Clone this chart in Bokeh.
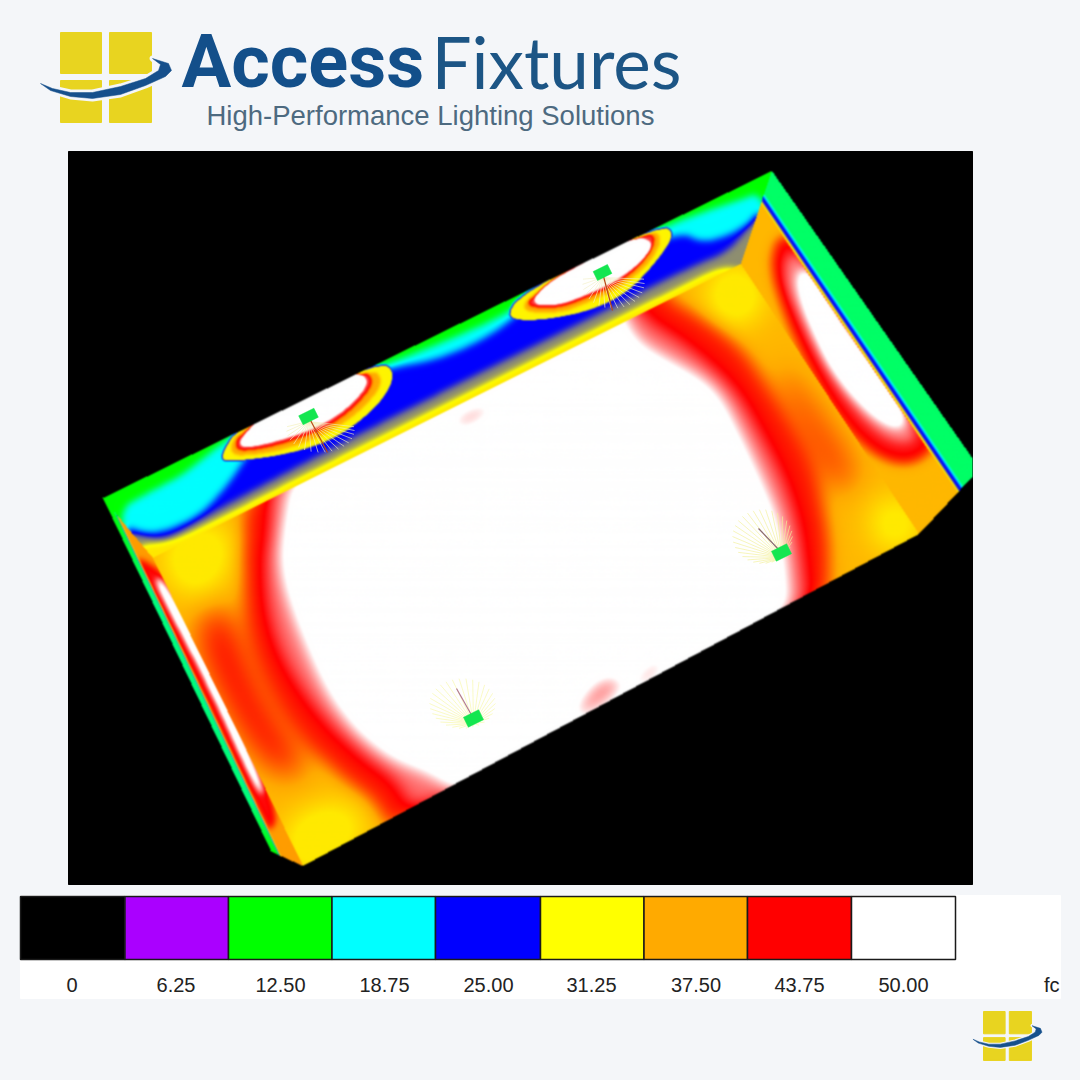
import numpy as np
from bokeh.plotting import figure
from bokeh.models import Range1d
from bokeh.core.properties import value
from bokeh.embed import file_html
from bokeh.resources import INLINE

BG = "#f4f6f9"
# ---------- legend ----------
LEVEL_LABELS = ["0", "6.25", "12.50", "18.75", "25.00", "31.25", "37.50", "43.75", "50.00"]
LEVEL_VALUES = [0, 6.25, 12.5, 18.75, 25, 31.25, 37.5, 43.75, 50]
LEVEL_COLORS = ["#000000", "#aa00ff", "#00ff00", "#00ffff", "#0000ff", "#ffff00", "#ffaa00", "#ff0000", "#ffffff"]
CELL_EDGES = [20, 124.5, 228, 331.5, 435, 540, 643.5, 747, 851, 955]
LABEL_X = [71.5, 175.5, 280, 384, 488, 591, 695.5, 799, 903]
UNIT = "fc"

# ---------- illuminance contours (fc, polygon) ----------
FLOOR_OUTLINE = [(152, 557), (740, 263), (918, 533), (302, 865)]
FLOOR_BASE = 36.5
FLOOR_MIN = 32.8
FLOOR_SOFT = [
    (30, [(158, 540), (215, 520), (232, 545), (212, 590), (180, 595)]),
    (30, [(285, 820), (340, 800), (370, 825), (315, 875), (288, 862)]),
    (29, [(705, 285), (740, 260), (765, 300), (740, 325), (715, 312)]),
    (30, [(868, 500), (910, 500), (922, 535), (880, 555)]),
    (44, [(190, 625), (225, 595), (258, 690), (315, 775), (270, 775), (222, 705)]),
    (42, [(770, 350), (812, 400), (865, 480), (832, 495), (788, 420)]),
]
FLOOR_CONTOURS = [
    (43, [(246, 470), (240, 570), (250, 650), (290, 727), (340, 777), (376, 802), (392, 840),
          (825, 610), (830, 565), (826, 518), (812, 465), (790, 425), (762, 378), (745, 352), (722, 330),
          (695, 312), (668, 298), (650, 270)]),
    (46.5, [(268, 470), (270, 525), (262, 570), (272, 640), (310, 705), (360, 755), (397, 780), (415, 820),
            (808, 620), (803, 565), (797, 520), (782, 475), (760, 433), (736, 390), (705, 360), (680, 340),
            (640, 315), (625, 280)]),
    (52.5, [(295, 460), (282, 530), (280, 570), (298, 627), (333, 705), (383, 755), (433, 773), (470, 800),
            (788, 625), (785, 565), (777, 520), (760, 480), (740, 437), (720, 397), (700, 378), (667, 360),
            (630, 338), (615, 290)]),
    (47, [(445, 420), (485, 400), (498, 408), (458, 432)]),
    (46.5, [(565, 720), (600, 672), (630, 680), (595, 712)]),
    (47, [(625, 685), (660, 652), (668, 665), (638, 690)]),
]
WALL_OUTLINE = [(102, 497), (771, 170), (762, 196), (740, 263), (152, 557), (115, 513)]
WALL_BASE = 12.5
WALL_CONTOURS = [
    (18.75, [(112, 512), (150, 490), (180, 475), (205, 455), (225, 440), (255, 418), (300, 392), (360, 373),
             (400, 358), (440, 342), (500, 316), (530, 295), (600, 260), (665, 225), (700, 212), (735, 200),
             (765, 190), (780, 300), (150, 600)]),
    (25, [(118, 522), (150, 535), (195, 518), (222, 490), (240, 465), (260, 432), (285, 405), (350, 378),
          (395, 366), (430, 360), (470, 345), (505, 324), (530, 300), (600, 265), (680, 230), (700, 242),
          (730, 234), (755, 217), (770, 205), (780, 300), (150, 600)]),
    (28.5, [(122, 530), (145, 535), (165, 538), (200, 518), (300, 464), (400, 412), (500, 362), (600, 312),
            (690, 266), (725, 252), (745, 230), (760, 205), (780, 300), (150, 600)]),
    (33, [(130, 545), (165, 543), (200, 528), (300, 476), (400, 426), (500, 376), (600, 326), (690, 281),
          (722, 266), (745, 270), (760, 300), (150, 600)]),
]
SPOT_BASE = 10
SPOTS = [
    (32, [(214, 461), (240, 461), (290, 454), (340, 437), (383, 401), (396, 372), (380, 358), (240, 420)]),
    (37.5, [(225, 455), (262, 453), (292, 446), (328, 432), (360, 410), (384, 381), (370, 365), (240, 425)]),
    (45, [(232, 450), (260, 448), (290, 440), (325, 427), (353, 407), (375, 380), (360, 368), (240, 430)]),
    (60, [(238, 446), (260, 443), (290, 435), (323, 422), (350, 403), (369, 379), (350, 370), (270, 405), (245, 432)]),
    (32, [(502, 319), (540, 321), (590, 311), (627, 293), (657, 261), (676, 232), (660, 222), (520, 290)]),
    (37.5, [(519, 311), (560, 312), (583, 303), (620, 287), (650, 261), (662, 237), (650, 228), (530, 292)]),
    (45, [(526, 306), (557, 307), (580, 299), (617, 283), (643, 261), (656, 238), (645, 230), (530, 295)]),
    (60, [(530, 303), (557, 303), (580, 295), (613, 280), (640, 260), (653, 241), (630, 236), (580, 263), (545, 283)]),
]
RIGHT_OUTLINE = [(771, 170), (972, 458), (972, 475), (960, 488), (933, 517), (918, 533), (740, 263), (762, 196)]
RIGHT_BASE = 36.5
RIGHT_CONTOURS = [
    (44, [(777, 232), (768, 265), (782, 312), (802, 358), (832, 412), (865, 450), (900, 466), (928, 456),
          (938, 430), (905, 400), (837, 300), (800, 240)]),
    (47, [(786, 252), (783, 280), (798, 315), (818, 355), (848, 403), (878, 434), (903, 444), (918, 436),
          (895, 395), (830, 300), (800, 255)]),
    (53, [(795, 272), (801, 303), (815, 337), (831, 370), (861, 405), (887, 425), (907, 427), (895, 395),
          (870, 362), (845, 330), (825, 298), (809, 268)]),
]
LEFT_OUTLINE = [(102, 497), (115, 513), (152, 557), (302, 865), (280, 855), (270, 850)]
LEFT_BASE = 38
LEFT_CONTOURS = [
    (44, [(132, 552), (172, 578), (224, 680), (278, 812), (270, 832), (260, 815), (196, 680), (142, 575)]),
    (56, [(150, 572), (165, 585), (214, 680), (265, 795), (257, 790), (207, 680)]),
]
EDGE_RIGHT = ((762, 196), (960, 487))
EDGE_RIGHT_D = [-3.5, -1.5, 0.5, 2.5, 4, 5.5, 7.5]
EDGE_RIGHT_V = [15, 19, 25, 25.5, 31.5, 37.5, 100]
EDGE_LEFT = ((117, 517), (278, 853))
EDGE_LEFT_D = [-0.5, 0.5, 1.5, 3]
EDGE_LEFT_V = [15.5, 30, 38, 100]
STRIP_Y = [505, 600, 800, 855]
STRIP_V = [12.5, 15.5, 15.5, 12.5]

# ---------- fixtures ----------
FIXTURE_X = [308, 602, 473, 781]
FIXTURE_Y = [416, 272, 718, 552]
FIXTURE_LEN = [17, 16, 17, 17]
FIXTURE_WID = [10, 10, 11, 11]
AIM_X1 = [327, 612, 456, 758]
AIM_Y1 = [452, 310, 688, 528]
AIM_COLOR = ["#b84a18", "#b84a18", "#b27a90", "#8a6a70"]
FAN_X = [320, 613, 462, 762]
FAN_Y = [430, 283, 703, 536]
FAN_RX = [34, 31, 33, 30]
FAN_RY = [22, 25, 25, 27]
FAN_COLOR = ["#f3f0b8", "#f3f0c8", "#f8f8a8", "#f3f098"]
WALL_RAY_DEG = [-10, 0, 10, 22, 34, 46, 58, 70, 82, 94, 106, 118, 130, 142, 154, 166, 178, 190]
FLOOR_RAY_DEG = [0, 12, 24, 36, 48, 60, 72, 84, 96, 108, 120, 132, 144, 156, 168, 180, 192, 204, 216, 228,
                 240, 252, 264, 276, 288, 300, 312, 324, 336, 348]

# ---------- raster of the illuminance field ----------
X0, Y0, W, H = 68, 151, 904, 733


def rounded(poly, n=2):
    for _ in range(n):
        out = []
        for a, b in zip(poly, poly[1:] + poly[:1]):
            out.append((0.75 * a[0] + 0.25 * b[0], 0.75 * a[1] + 0.25 * b[1]))
            out.append((0.25 * a[0] + 0.75 * b[0], 0.25 * a[1] + 0.75 * b[1]))
        poly = out
    return poly


def fill(poly):
    m = np.zeros((H, W + 1), dtype=bool)
    pts = [(a - X0, b - Y0) for a, b in poly]
    for (x1, y1), (x2, y2) in zip(pts, pts[1:] + pts[:1]):
        if y1 == y2:
            continue
        lo, hi = int(np.ceil(min(y1, y2))), int(np.ceil(max(y1, y2)))
        rows = np.arange(max(lo, 0), min(hi, H))
        if rows.size == 0:
            continue
        xc = x1 + (rows - y1) * (x2 - x1) / (y2 - y1)
        cols = np.clip(np.ceil(xc), 0, W).astype(int)
        m[rows, cols] ^= True
    return np.logical_xor.accumulate(m, axis=1)[:, :W]


def blur(a, s):
    r = int(3 * s) + 1
    t = np.arange(-r, r + 1)
    k = np.exp(-0.5 * (t / s) ** 2)
    k /= k.sum()
    b = np.pad(a, r, mode="edge")
    for axis in (0, 1):
        n = b.shape[axis]
        kf = np.fft.rfft(k, n=n)
        shape = [1, 1]
        shape[axis] = kf.size
        b = np.fft.irfft(np.fft.rfft(b, axis=axis) * kf.reshape(shape), n=n, axis=axis)
        b = np.roll(b, -r, axis=axis)
    return b[r:-r, r:-r]


def paint(f, contours):
    for lev, poly in contours:
        f[fill(rounded(poly))] = lev
    return f


def field(base, contours, sigma, soft=(), soft_sigma=14):
    f = np.full((H, W), float(base))
    if soft:
        f = blur(paint(f, soft), soft_sigma)
    return blur(paint(f, contours), sigma)


YY, XX = np.mgrid[Y0:Y0 + H, X0:X0 + W] + 0.5
XX = XX.astype(float)


def signed(edge):
    (a, b), (c, d) = edge
    n = np.hypot(c - a, d - b)
    return ((XX - a) * (d - b) - (YY - b) * (c - a)) / n


floor_f = np.maximum(field(FLOOR_BASE, FLOOR_CONTOURS, 8.5, FLOOR_SOFT, 14), FLOOR_MIN)
wall_f = np.maximum(field(WALL_BASE, WALL_CONTOURS, 3.3), field(SPOT_BASE, SPOTS, 1.3))
right_f = np.minimum(field(RIGHT_BASE, RIGHT_CONTOURS, 5.5),
                     np.interp(-signed(EDGE_RIGHT), EDGE_RIGHT_D, EDGE_RIGHT_V))
strip = np.interp(YY, STRIP_Y, STRIP_V)
dl = signed(EDGE_LEFT)
left_edge = np.interp(dl, EDGE_LEFT_D, EDGE_LEFT_V)
left_edge[dl < -0.5] = strip[dl < -0.5]
left_f = np.minimum(field(LEFT_BASE, LEFT_CONTOURS, 3.0), left_edge)

fc = np.zeros((H, W))
solid = np.zeros((H, W), dtype=bool)
for outline, f in [(LEFT_OUTLINE, left_f), (RIGHT_OUTLINE, right_f), (FLOOR_OUTLINE, floor_f), (WALL_OUTLINE, wall_f)]:
    m = fill(outline)
    fc[m] = f[m]
    solid |= m

rgb_stops = np.array([[int(c[i:i + 2], 16) for i in (1, 3, 5)] for c in LEVEL_COLORS], dtype=float)
rgba = np.zeros((H, W, 4), dtype=np.uint8)
for ch in range(3):
    band = np.interp(fc, LEVEL_VALUES, rgb_stops[:, ch])
    band[~solid] = 0
    rgba[..., ch] = np.clip(blur(band, 0.7), 0, 255).astype(np.uint8)
rgba[..., 3] = 255
image = rgba.view(np.uint32).reshape(H, W)

# ---------- figure ----------
p = figure(width=1080, height=1080, x_range=Range1d(0, 1080), y_range=Range1d(1080, 0),
           output_backend="svg", toolbar_location=None, min_border=0,
           background_fill_color=BG, border_fill_color=BG, outline_line_color=None)
p.axis.visible = False
p.grid.visible = False

p.quad(left=[68], right=[972], top=[151], bottom=[884], color="#000000")
p.image_rgba(image=[image], x=[X0], y=[Y0], dw=[W], dh=[H])


def boxes(cx, cy, ln, wd, deg=-26.5):
    t = np.radians(deg)
    u = np.array([np.cos(t), np.sin(t)])
    v = np.array([-np.sin(t), np.cos(t)])
    xs, ys = [], []
    for a, b, l, w in zip(cx, cy, ln, wd):
        c = [np.array([a, b]) + s * l / 2 * u + r * w / 2 * v for s, r in ((-1, -1), (1, -1), (1, 1), (-1, 1))]
        xs.append([q[0] for q in c])
        ys.append([q[1] for q in c])
    return xs, ys


for i in range(4):
    degs = np.radians(WALL_RAY_DEG if i < 2 else FLOOR_RAY_DEG)
    p.segment(x0=[FIXTURE_X[i]] * len(degs), y0=[FIXTURE_Y[i] + 5] * len(degs),
              x1=FAN_X[i] + FAN_RX[i] * np.cos(degs), y1=FAN_Y[i] + FAN_RY[i] * np.sin(degs),
              line_color=FAN_COLOR[i], line_width=1, line_alpha=0.65)
p.segment(x0=FIXTURE_X, y0=FIXTURE_Y, x1=AIM_X1, y1=AIM_Y1, line_color=AIM_COLOR, line_width=1.2)
fx, fy = boxes(FIXTURE_X, FIXTURE_Y, FIXTURE_LEN, FIXTURE_WID)
p.patches(fx, fy, fill_color="#14e650", line_color="#14e650", line_width=0.5)

# legend
p.quad(left=[20], right=[1060], top=[895], bottom=[998], color="#ffffff")
p.quad(left=CELL_EDGES[:-1], right=CELL_EDGES[1:], top=[896] * 9, bottom=[959] * 9,
       fill_color=LEVEL_COLORS, line_color="#1a1a1a", line_width=1.5)
p.text(x=LABEL_X, y=[984] * 9, text=LEVEL_LABELS, text_font=value("Liberation Sans"),
       text_font_size=value("20px"), text_align="center", text_baseline="alphabetic", text_color="#222222")
p.text(x=[1059], y=[984], text=[UNIT], text_font=value("Liberation Sans"),
       text_font_size=value("20px"), text_align="right", text_baseline="alphabetic", text_color="#222222")

# logo
LOGO_PANEL_L = [60, 109, 60, 109]
LOGO_PANEL_R = [101, 151, 101, 151]
LOGO_PANEL_T = [32, 32, 80, 80]
LOGO_PANEL_B = [73, 73, 122, 122]
SWOOSH_X = [40, 50, 70, 92, 120, 145, 165, 171, 168, 152, 160, 158, 145, 120, 92, 70, 52]
SWOOSH_Y = [83, 90, 96, 98, 94, 85, 76, 70, 63, 58, 64, 70, 78, 86, 92, 92, 88]
LOGO_YELLOW = "#e8d420"
LOGO_BLUE = "#16508c"


def logo(sx, sy, dx, dy, halo):
    X = lambda a: [dx + (v - 60) * sx for v in a]
    Y = lambda a: [dy + (v - 32) * sy for v in a]
    p.quad(left=X(LOGO_PANEL_L), right=X(LOGO_PANEL_R), top=Y(LOGO_PANEL_T), bottom=Y(LOGO_PANEL_B), color=LOGO_YELLOW)
    p.patch(X(SWOOSH_X), Y(SWOOSH_Y), fill_color=BG, line_color=BG, line_width=halo, line_join="round")
    p.patch(X(SWOOSH_X), Y(SWOOSH_Y), fill_color=LOGO_BLUE, line_color=LOGO_BLUE, line_width=0.5)


logo(1, 1, 60, 32, 6)
logo(0.527, 0.544, 983, 1011, 3)

p.text(x=[181], y=[61], text=["Access"], text_font=value("Roboto"), text_font_style="bold",
       text_font_size=value("74px"), text_baseline="alphabetic", text_color="#134f8a")
p.text(x=[431], y=[61], text=["Fixtures"], text_font=value("Lato"), text_font_size=value("71px"),
       text_baseline="alphabetic", text_color="#1c5585")
p.text(x=[206], y=[115], text=["High-Performance Lighting Solutions"], text_font=value("Liberation Sans"),
       text_font_size=value("27.5px"), text_baseline="alphabetic", text_color="#4d6a80")

html = file_html(p, INLINE).replace("<head>", "<head><style>html,body{background:%s}</style>" % BG, 1)
open("out.html", "w").write(html)
